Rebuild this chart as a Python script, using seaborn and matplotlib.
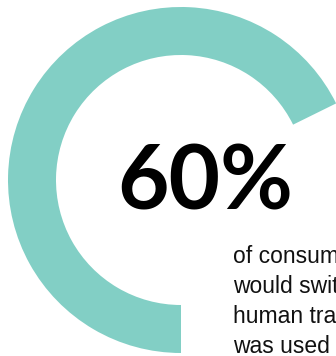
import matplotlib
matplotlib.use("Agg")
import matplotlib.pyplot as plt
import seaborn as sns

# Data
arc_labels = ["share", "rest"]
arc_values = [67.7, 32.3]          # visible arc covers ~244 of 360 degrees
headline = "60%"
body_lines = ["of consumers", "would switch", "human travel", "was used to"]

sns.set_theme(style="white")
plt.rcParams["font.family"] = ["Liberation Sans", "DejaVu Sans"]

teal = "#82CFC5"

fig = plt.figure(figsize=(3.36, 3.56), dpi=100)
ax = fig.add_axes([0, 0, 1, 1])

ax.pie(arc_values, labels=None, colors=[teal, "none"], startangle=270,
       counterclock=False, radius=173, center=(181, 176),
       wedgeprops=dict(width=48, linewidth=0, antialiased=True))

ax.set_xlim(0, 336)
ax.set_ylim(0, 356)
ax.set_aspect("equal")
ax.axis("off")

ax.text(205, 356 - 183, headline, ha="center", va="center",
        fontsize=64, fontweight="bold", family=["Lato", "DejaVu Sans"],
        color="#000000")

for i, line in enumerate(body_lines):
    ax.text(233, 356 - (263 + 30 * i), line, ha="left", va="baseline",
            fontsize=16.5, color="#111111")

fig.savefig("out.png", dpi=100)
